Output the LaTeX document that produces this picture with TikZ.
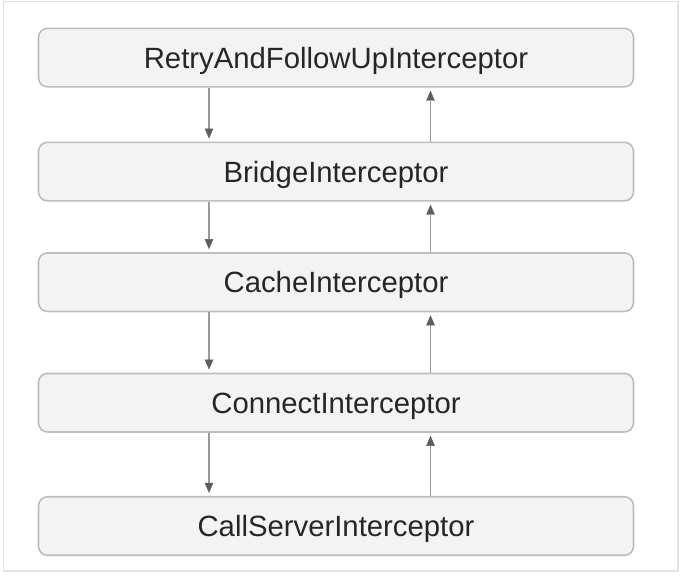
\documentclass[tikz,border=0pt]{standalone}
\usepackage{fontspec}
\setmainfont{Liberation Sans}
\usetikzlibrary{arrows.meta}
\definecolor{boxfill}{HTML}{F3F3F3}
\definecolor{boxline}{HTML}{BDBDBD}
\definecolor{frameline}{HTML}{E3E3E3}
\definecolor{arrowline}{HTML}{9A9A9A}
\definecolor{arrowhead}{HTML}{5E5E5E}
\definecolor{labeltext}{HTML}{262626}
\begin{document}
\begin{tikzpicture}[x=1pt,y=-1pt,
  layer/.style={draw=boxline, line width=1.6pt, fill=boxfill, rounded corners=9pt,
    minimum width=595pt, minimum height=58.5pt, inner sep=0pt,
    text height=21pt, text depth=0pt,
    text=labeltext, font=\fontsize{29.3}{35}\selectfont},
  flow/.style={draw=arrowline, line width=1.4pt,
    -{Triangle[length=10pt,width=8.5pt,color=arrowhead,fill=arrowhead,line width=0.4pt]},
    shorten >=3pt}
]
\useasboundingbox (0,0) rectangle (682,576);
% outer frame
\draw[frameline, line width=1.6pt] (3.5,1.5) rectangle (678,571);

% interceptor chain
\node[layer] (retry)   at (336,57.6)  {RetryAndFollowUpInterceptor};
\node[layer] (bridge)  at (336,171.6) {BridgeInterceptor};
\node[layer] (cache)   at (336,282.2) {CacheInterceptor};
\node[layer] (connect) at (336,402.7) {ConnectInterceptor};
\node[layer] (server)  at (336,526)   {CallServerInterceptor};

% columns for request (down) and response (up) arrows
\coordinate (dn) at (209,0);
\coordinate (up) at (430.5,0);

% request travels down the chain
\draw[flow] (retry.south -| dn)   -- (bridge.north -| dn);
\draw[flow] (bridge.south -| dn)  -- (cache.north -| dn);
\draw[flow] (cache.south -| dn)   -- (connect.north -| dn);
\draw[flow] (connect.south -| dn) -- (server.north -| dn);

% response travels back up
\draw[flow] (bridge.north -| up)  -- (retry.south -| up);
\draw[flow] (cache.north -| up)   -- (bridge.south -| up);
\draw[flow] (connect.north -| up) -- (cache.south -| up);
\draw[flow] (server.north -| up)  -- (connect.south -| up);
\end{tikzpicture}
\end{document}
